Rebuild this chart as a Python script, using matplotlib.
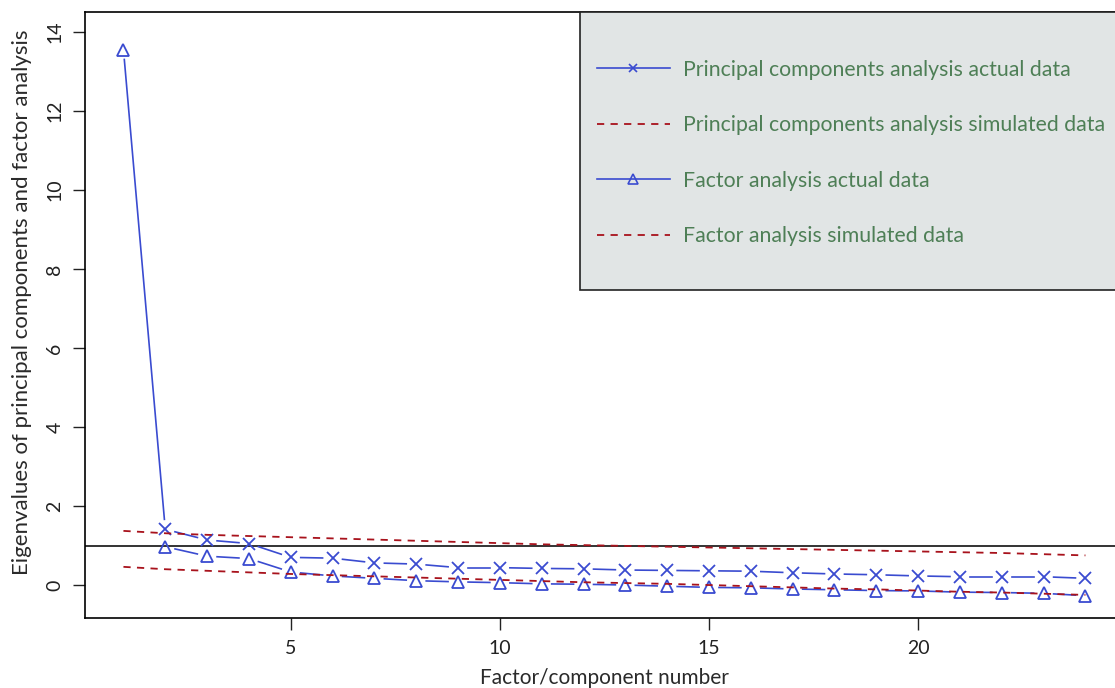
import numpy as np
import matplotlib
matplotlib.use("Agg")
import matplotlib.pyplot as plt
from matplotlib.lines import Line2D
from matplotlib.patches import Rectangle

plt.rcParams['font.family'] = ['Lato', 'DejaVu Sans']

# data
factor_num = np.arange(1, 25)
pca_actual = [13.55, 1.41, 1.14, 1.05, 0.70, 0.68, 0.56, 0.53, 0.44, 0.44, 0.42, 0.41,
              0.38, 0.37, 0.36, 0.35, 0.31, 0.28, 0.26, 0.23, 0.21, 0.21, 0.21, 0.17]
fa_actual = [np.nan, 0.97, 0.73, 0.67, 0.33, 0.23, 0.17, 0.11, 0.08, 0.06, 0.03, 0.02,
             0.00, -0.03, -0.06, -0.07, -0.10, -0.12, -0.14, -0.15, -0.18, -0.19, -0.21, -0.27]
pca_sim = [1.37, 1.31, 1.27, 1.24, 1.21, 1.18, 1.15, 1.12, 1.09, 1.06, 1.03, 1.01,
           0.99, 0.97, 0.95, 0.93, 0.91, 0.89, 0.87, 0.85, 0.83, 0.81, 0.78, 0.75]
fa_sim = [0.46, 0.40, 0.36, 0.32, 0.28, 0.25, 0.22, 0.19, 0.16, 0.13, 0.10, 0.07,
          0.05, 0.03, 0.00, -0.03, -0.06, -0.09, -0.11, -0.14, -0.17, -0.19, -0.22, -0.25]
legend_labels = ["Principal components analysis actual data",
                 "Principal components analysis simulated data",
                 "Factor analysis actual data",
                 "Factor analysis simulated data"]

blue = '#3a4bd0'
red = '#a8121c'
green = '#4e7f56'
txt = '#2a2a2a'

fig = plt.figure(figsize=(11.15, 6.88), dpi=100)
ax = fig.add_axes([0.0762, 0.1017, 0.9318, 0.8809])
ax.set_xlim(0.08, 24.92)
ax.set_ylim(-0.835, 14.5)


def gapped(x, y, gap=10, **kw):
    # R type="b": line segments stop short of the points
    x = np.asarray(x, float)
    y = np.asarray(y, float)
    pts = ax.transData.transform(np.column_stack([x, y]))
    inv = ax.transData.inverted()
    for p0, p1 in zip(pts[:-1], pts[1:]):
        if np.isnan(p0).any() or np.isnan(p1).any():
            continue
        d = p1 - p0
        L = np.hypot(*d)
        if L <= 2 * gap:
            continue
        u = d / L
        a = inv.transform(p0 + u * gap)
        b = inv.transform(p1 - u * gap)
        ax.plot([a[0], b[0]], [a[1], b[1]], color=blue, lw=1.2, **kw)


ax.axhline(1, color='#333333', lw=1.4, zorder=1)

gapped(factor_num, pca_actual)
gapped(factor_num, fa_actual)
ax.plot(factor_num[1:], pca_actual[1:], ls='none', marker='x', ms=8, mew=1.3, color=blue)
ax.plot(factor_num[:1], pca_actual[:1], ls='none', marker='^', ms=9, mew=1.3,
        mfc='none', mec=blue)
ax.plot(factor_num, fa_actual, ls='none', marker='^', ms=9, mew=1.3, mfc='none', mec=blue)

ax.plot(factor_num, pca_sim, color=red, lw=1.3, dashes=(4, 3.5))
ax.plot(factor_num, fa_sim, color=red, lw=1.3, dashes=(4, 3.5))

ax.set_xticks([5, 10, 15, 20])
ax.set_yticks(range(0, 15, 2))
ax.tick_params(length=8.5, width=1, colors='#222222', labelsize=14, pad=7)
for lab in ax.get_yticklabels():
    lab.set_rotation(90)
    lab.set_va('center')
for s in ax.spines.values():
    s.set_linewidth(1.2)
ax.set_xlabel("Factor/component number", fontsize=15, color=txt, labelpad=8)
ax.set_ylabel("Eigenvalues of principal components and factor analysis",
              fontsize=16, color=txt)
ax.yaxis.set_label_coords(-0.051, 0.521)

# legend box
ax.add_patch(Rectangle((0.4764, 0.541), 0.6, 0.459, transform=ax.transAxes,
                       facecolor='#e1e5e5', edgecolor='#222222', lw=1.2,
                       zorder=3, clip_on=False))
handles = [Line2D([], [], color=blue, lw=1.2, marker='x', ms=6, mew=1.2),
           Line2D([], [], color=red, lw=1.3, dashes=(4, 3.5)),
           Line2D([], [], color=blue, lw=1.2, marker='^', ms=7, mew=1.2, mfc='none'),
           Line2D([], [], color=red, lw=1.3, dashes=(4, 3.5))]
leg = ax.legend(handles, legend_labels, loc='upper left',
                bbox_to_anchor=(0.4925, 0.921), frameon=False, fontsize=15.3,
                handlelength=3.45, handletextpad=0.6, labelspacing=1.67,
                borderpad=0, borderaxespad=0)
leg.set_zorder(4)
for t in leg.get_texts():
    t.set_color(green)

fig.savefig("out.png", dpi=100)
